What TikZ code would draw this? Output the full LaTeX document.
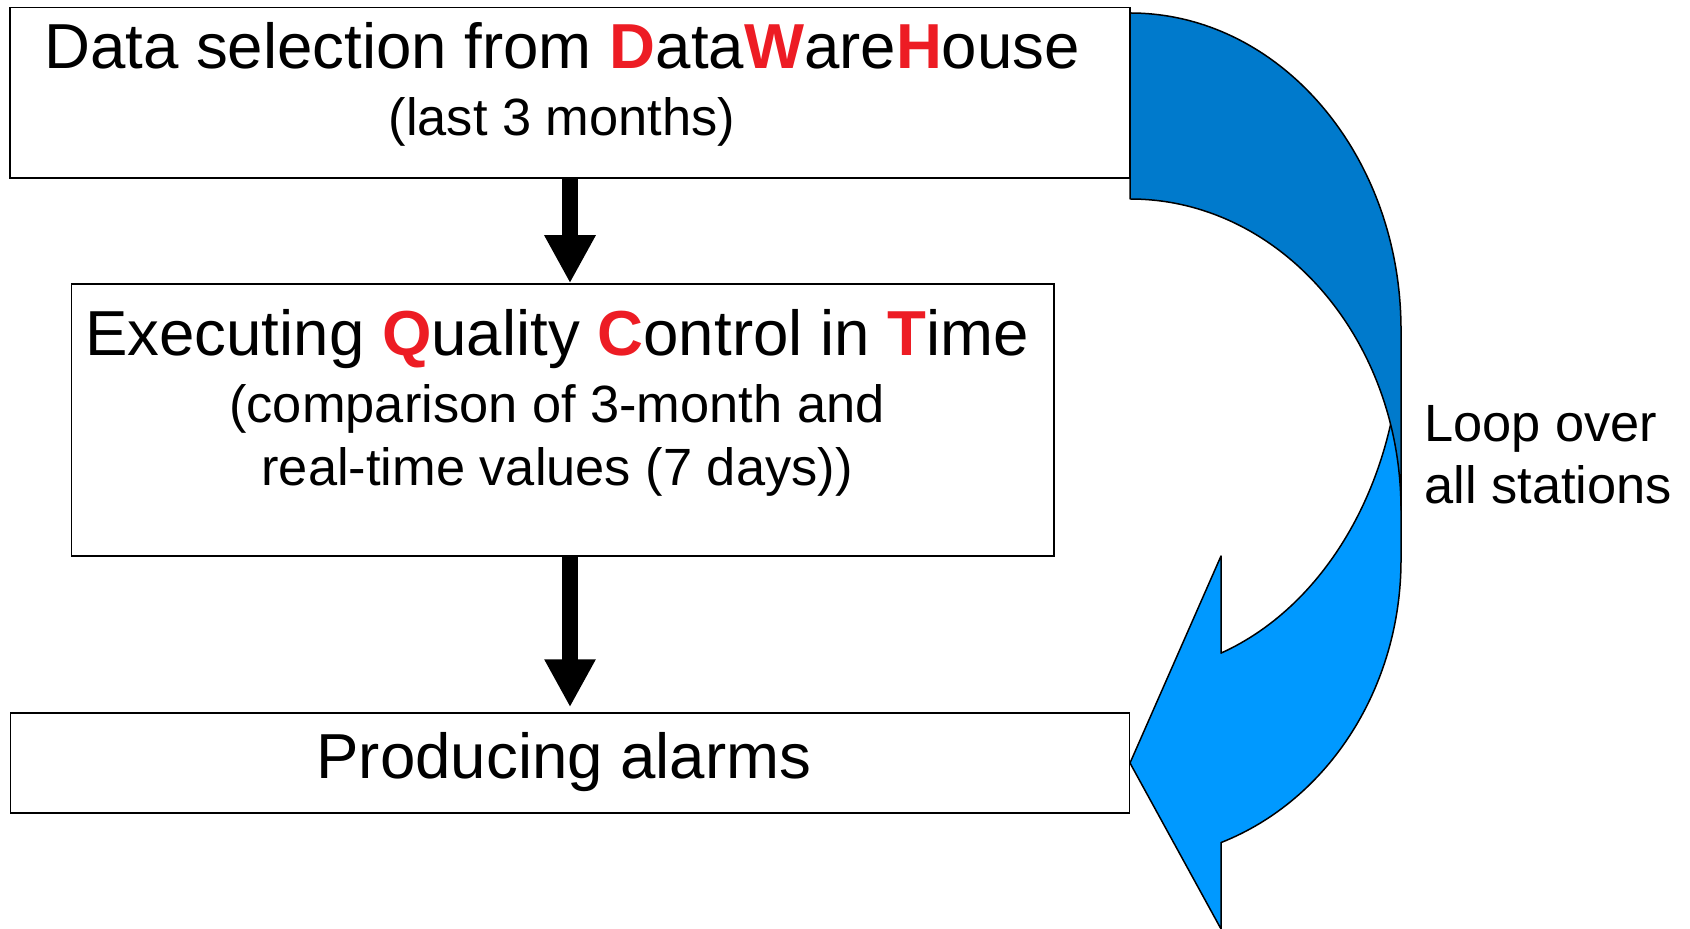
\documentclass[tikz,border=0pt]{standalone}
\usepackage{fontspec}
\setmainfont{Liberation Sans}
\usepackage{xcolor}
\usetikzlibrary{arrows.meta}

\definecolor{backblue}{RGB}{0,122,204}
\definecolor{frontblue}{RGB}{0,153,255}
\definecolor{keyred}{RGB}{237,28,36}

\newcommand{\keyletter}[1]{\textcolor{keyred}{\textbf{#1}}}
\newcommand{\bigline}[1]{{\fontsize{31.8}{33.5}\selectfont #1}}

\begin{document}
\begin{tikzpicture}[x=0.5pt, y=-0.5pt,
    box/.style={draw, line width=0.75pt, inner sep=0pt},
    flow/.style={line width=8.25pt, -{Triangle[width=24pt, length=24pt]}},
    small/.style={font=\fontsize{26.2}{33.5}\selectfont}]
    \useasboundingbox (0,0) rectangle (1690,929);

    % loop arrow, front part first
    \draw[fill=frontblue, line width=0.75pt, line join=round] (1401,330) -- (1401,560)
        arc[start angle=0, end angle=-70.38, x radius=135.5pt, y radius=150pt]
        -- (1221,929) -- (1130,763) -- (1221,556) -- (1221,653.1)
        arc[start angle=-70.38, end angle=0, x radius=135.5pt, y radius=171.5pt] -- cycle;
    % back part of the loop
    \draw[fill=backblue, line width=0.75pt, line join=round] (1130,13)
        arc[start angle=90, end angle=0, x radius=135.5pt, y radius=158.5pt]
        -- (1401,510)
        arc[start angle=0, end angle=90, x radius=135.5pt, y radius=155.5pt] -- cycle;

    \node[box, fill=white, minimum width=559.9pt, minimum height=85.4pt] (select) at (570,92.7) {};
    \node[small, align=center] (selecttext) at (562,84.2)
        {\bigline{Data selection from \keyletter{D}ata\keyletter{W}are\keyletter{H}ouse}\\(last 3 months)};

    \node[box, minimum width=491.3pt, minimum height=136pt] (qc) at (562.7,420) {};
    \node[small, align=center] (qctext) at (557,402.4)
        {\bigline{Executing \keyletter{Q}uality \keyletter{C}ontrol in \keyletter{T}ime}\\
         (comparison of 3-month and\\[-2pt]
         real-time values (7 days))};

    \node[box, fill=white, minimum width=559.6pt, minimum height=50pt] (alarms) at (570,763) {};
    \node[font=\fontsize{31.8}{33.5}\selectfont] (alarmstext) at (564,762) {Producing alarms};

    \node[anchor=west, inner sep=0pt, align=left, font=\fontsize{26.2}{31.25}\selectfont]
        (looptext) at (1424,454.5) {Loop over\\all stations};

    \draw[flow] (select.south) -- (select.south |- qc.north);
    \draw[flow, shorten >=2.5pt] (qc.south -| select.south) -- (alarms.north);
\end{tikzpicture}
\end{document}
